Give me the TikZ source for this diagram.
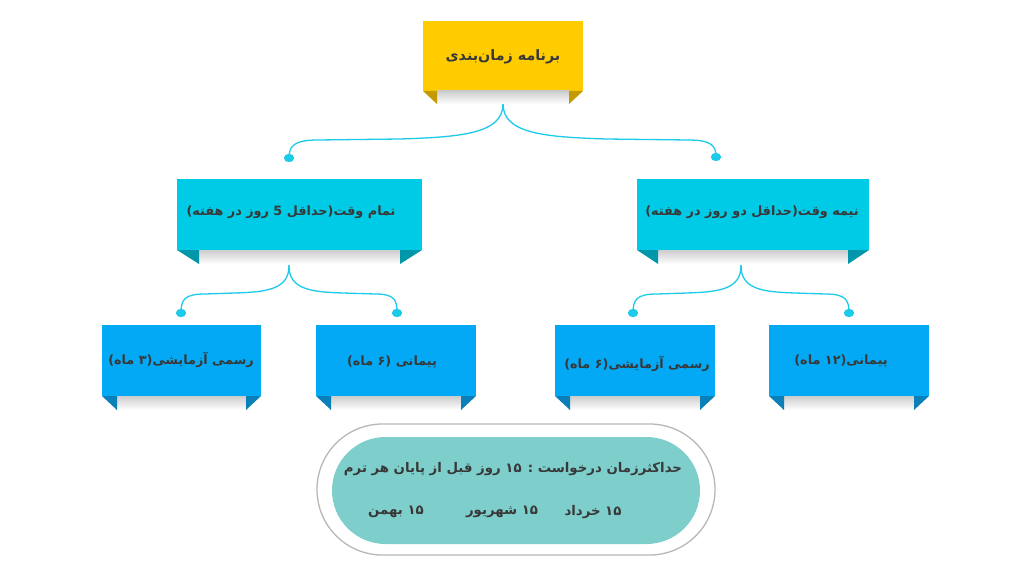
\documentclass[tikz,border=0pt]{standalone}
\usepackage{fontspec}
\usetikzlibrary{calc,shapes.misc,shapes.geometric}
\newfontfamily\fa[Script=Arabic]{DejaVu Sans}
\TeXXeTstate=1
\definecolor{yel}{HTML}{FFCC00}
\definecolor{yeldk}{HTML}{C49A00}
\definecolor{cyn}{HTML}{00CBE6}
\definecolor{cyndk}{HTML}{0097AA}
\definecolor{blu}{HTML}{03A9F4}
\definecolor{bludk}{HTML}{0A7FB8}
\definecolor{connc}{HTML}{1CCBEA}
\definecolor{tealin}{HTML}{7ECECC}
\definecolor{txtc}{HTML}{383838}
\newcommand\myribbon[4]{%
  \shade[top color=black!20, bottom color=white] ($(#1.south west)+(#2,0)$) rectangle ($(#1.south east)+(-#2,#3)$);
  \fill[#4] (#1.south west) -- ++(#2,0) -- ++(0,#3) -- cycle;
  \fill[#4] (#1.south east) -- ++(-#2,0) -- ++(0,#3) -- cycle;
}
\begin{document}
\begin{tikzpicture}[x=1pt,y=-1pt,
  boxshape/.style={rectangle, inner sep=0pt, outer sep=0pt, draw=none},
  conn/.style={draw=connc, line width=1.3pt},
  dot/.style={ellipse, fill=connc, minimum width=10pt, minimum height=8pt, inner sep=0pt},
  lbl/.style={inner sep=0pt, text=txtc, font=\fa\bfseries\fontsize{12.8}{15}\selectfont},
  toplbl/.style={lbl, font=\fa\bfseries\fontsize{14.3}{17}\selectfont},
  elbl/.style={lbl, font=\fa\bfseries\fontsize{13.3}{16}\selectfont}]
\useasboundingbox (0,0) rectangle (1024,577);
\fill[white] (0,0) rectangle (1024,577);

% boxes
\node[boxshape, fill=yel, minimum width=160pt, minimum height=70pt] (top) at (503,56) {};
\node[boxshape, fill=cyn, minimum width=245pt, minimum height=71pt] (midL) at (299.5,214.5) {};
\node[boxshape, fill=cyn, minimum width=232pt, minimum height=71pt] (midR) at (753,214.5) {};
\node[boxshape, fill=blu, minimum width=159pt, minimum height=71pt] (b1) at (181.5,360.5) {};
\node[boxshape, fill=blu, minimum width=160pt, minimum height=71pt] (b2) at (396,360.5) {};
\node[boxshape, fill=blu, minimum width=160pt, minimum height=71pt] (b3) at (635,360.5) {};
\node[boxshape, fill=blu, minimum width=160pt, minimum height=71pt] (b4) at (849,360.5) {};

% dots
\node[dot] (d1) at (289,158) {};
\node[dot] (d2) at (716,157) {};
\node[dot] (d3) at (181,313) {};
\node[dot] (d4) at (397,313) {};
\node[dot] (d5) at (633,313) {};
\node[dot] (d6) at (849,313) {};
\coordinate (s2) at (289,250);
\coordinate (s3) at (741,250);

% connectors
\draw[conn] (top.south) -- (503,104) .. controls (503,134) and (460,137) .. (400,139) -- (318,140) .. controls (294,140) and (289,146) .. (d1.center);
\draw[conn] (top.south) -- (503,104) .. controls (503,134) and (546,137) .. (606,139) -- (688,140) .. controls (712,140) and (716,146) .. (d2.center);
\draw[conn] (s2) -- (289,266) .. controls (289,290) and (265,292) .. (235,293) -- (205,294) .. controls (184,294) and (181,300) .. (d3.center);
\draw[conn] (s2) -- (289,266) .. controls (289,290) and (313,292) .. (343,293) -- (375,294) .. controls (395,294) and (397,300) .. (d4.center);
\draw[conn] (s3) -- (741,266) .. controls (741,290) and (717,292) .. (687,293) -- (657,294) .. controls (636,294) and (633,300) .. (d5.center);
\draw[conn] (s3) -- (741,266) .. controls (741,290) and (765,292) .. (795,293) -- (825,294) .. controls (846,294) and (849,300) .. (d6.center);
\node[dot] at (d1) {};
\node[dot] at (d2) {};
\node[dot] at (d3) {};
\node[dot] at (d4) {};
\node[dot] at (d5) {};
\node[dot] at (d6) {};

% ribbons
\myribbon{top}{14}{13}{yeldk}
\myribbon{midL}{22}{14}{cyndk}
\myribbon{midR}{21}{14}{cyndk}
\myribbon{b1}{15}{14}{bludk}
\myribbon{b2}{15}{14}{bludk}
\myribbon{b3}{15}{14}{bludk}
\myribbon{b4}{15}{14}{bludk}

% ellipse
\node[rounded rectangle, draw=black!28, line width=1.3pt, fill=white, minimum width=398pt, minimum height=131pt, inner sep=0pt] (outer) at (516,489.5) {};
\node[rounded rectangle, fill=tealin, minimum width=368pt, minimum height=107pt, inner sep=0pt] (inner) at (516,490.5) {};

% texts
\node[toplbl] (t0) at (503,57) {\beginR برنامه زمان‌بندی\endR};
\node[lbl] (t1) at (291,212) {\beginR تمام وقت(حداقل 5 روز در هفته)\endR};
\node[lbl] (t2) at (752,212) {\beginR نیمه وقت(حداقل دو روز در هفته)\endR};
\node[lbl] (t3) at (181,360) {\beginR رسمی آزمایشی(۳ ماه)\endR};
\node[lbl] (t4) at (392,362) {\beginR پیمانی (۶ ماه)\endR};
\node[lbl] (t5) at (637,364) {\beginR رسمی آزمایشی(۶ ماه)\endR};
\node[lbl] (t6) at (841,361) {\beginR پیمانی(۱۲ ماه)\endR};
\node[elbl] (t7) at (513,469) {\beginR حداکثرزمان درخواست : ۱۵ روز قبل از پایان  هر ترم\endR};
\node[elbl] (t8) at (396,512) {\beginR ۱۵ بهمن\endR};
\node[elbl] (t9) at (502,512) {\beginR ۱۵ شهریور\endR};
\node[elbl] (t10) at (593,512) {\beginR ۱۵ خرداد\endR};
\end{tikzpicture}
\end{document}
